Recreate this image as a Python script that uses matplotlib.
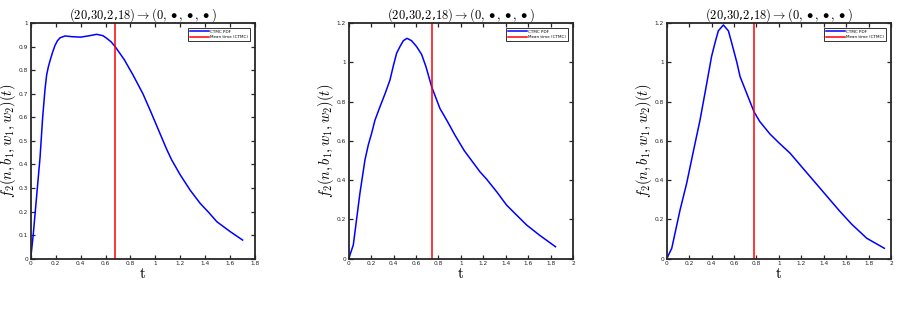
import numpy as np
import matplotlib
matplotlib.use("Agg")
import matplotlib.pyplot as plt

plt.rcParams['mathtext.fontset'] = 'cm'
plt.rcParams['font.family'] = ['DejaVu Sans']

# valeurs (t, densité)
t1 = [0, 0.02, 0.05, 0.075, 0.096, 0.115, 0.128, 0.142, 0.155, 0.175, 0.195, 0.215, 0.235,
      0.275, 0.33, 0.4, 0.46, 0.53, 0.58, 0.61, 0.645, 0.677, 0.75, 0.82, 0.9, 0.958, 1.03,
      1.09, 1.13, 1.198, 1.28, 1.359, 1.43, 1.493, 1.6, 1.7]
f1 = [0, 0.1, 0.28, 0.43, 0.6, 0.72, 0.78, 0.815, 0.84, 0.875, 0.905, 0.925, 0.937,
      0.945, 0.942, 0.94, 0.945, 0.952, 0.946, 0.935, 0.92, 0.90, 0.845, 0.78, 0.70, 0.63, 0.54,
      0.465, 0.42, 0.357, 0.29, 0.235, 0.195, 0.157, 0.115, 0.079]
t2 = [0, 0.041, 0.1, 0.145, 0.175, 0.205, 0.234, 0.279, 0.324, 0.368, 0.397, 0.427, 0.457,
      0.487, 0.52, 0.56, 0.605, 0.65, 0.69, 0.739, 0.813, 0.873, 0.946, 1.03, 1.169, 1.229,
      1.32, 1.407, 1.5, 1.585, 1.7, 1.843]
f2 = [0, 0.07, 0.333, 0.503, 0.58, 0.64, 0.705, 0.774, 0.84, 0.91, 0.98, 1.046, 1.08,
      1.11, 1.122, 1.11, 1.08, 1.04, 0.975, 0.876, 0.765, 0.706, 0.63, 0.55, 0.443, 0.405,
      0.34, 0.273, 0.22, 0.172, 0.12, 0.061]
t3 = [0, 0.045, 0.119, 0.178, 0.237, 0.297, 0.357, 0.40, 0.431, 0.46, 0.505, 0.55, 0.58,
      0.625, 0.654, 0.713, 0.778, 0.83, 0.92, 1.0, 1.10, 1.2, 1.35, 1.545, 1.65, 1.783, 1.94]
f3 = [0, 0.053, 0.248, 0.384, 0.545, 0.706, 0.893, 1.03, 1.10, 1.16, 1.19, 1.16, 1.097,
      1.0, 0.927, 0.842, 0.748, 0.698, 0.635, 0.59, 0.537, 0.47, 0.37, 0.24, 0.175, 0.104, 0.053]

mean_times = [0.677, 0.739, 0.778]
x_max = [1.8, 2, 2]
y_max = [1.0, 1.2, 1.2]
y_step = [0.1, 0.2, 0.2]

courbes = [(t1, f1), (t2, f2), (t3, f3)]
lefts = [30.7, 348.7, 666.7]

fig = plt.figure(figsize=(8.99, 3.14), dpi=100)

def fmt(v):
    s = ('%.1f' % v).rstrip('0').rstrip('.')
    return s

for i, (t, f) in enumerate(courbes):
    ax = fig.add_axes([lefts[i] / 899, (314 - 258.7) / 314, 224.4 / 899, 235.7 / 314])
    ax.plot(t, f, color=(0, 0, 1), lw=1.1, label='CTMC PDF')
    ax.axvline(mean_times[i], color=(1, 0, 0), lw=1.1, label='Mean time (CTMC)')
    ax.set_xlim(0, x_max[i])
    ax.set_ylim(0, y_max[i])
    xt = np.round(np.arange(0, x_max[i] + 0.001, 0.2), 1)
    yt = np.round(np.arange(0, y_max[i] + 0.001, y_step[i]), 1)
    ax.set_xticks(xt)
    ax.set_xticklabels([fmt(v) for v in xt])
    ax.set_yticks(yt)
    ax.set_yticklabels([fmt(v) for v in yt])
    ax.tick_params(direction='in', top=True, right=True, length=3, width=0.9,
                   labelsize=4.2, colors='#262626', pad=2)
    for sp in ax.spines.values():
        sp.set_color('#262626')
        sp.set_linewidth(1.3)
    ax.set_title(r'$(20$,$30$,$2$,$18) \rightarrow (0, \bullet, \bullet, \bullet)$',
                 fontsize=9, pad=3)
    ax.set_xlabel(r'$\mathrm{t}$', fontsize=11, labelpad=0)
    ax.set_ylabel(r'$f_2(n,b_1,w_1,w_2)(t)$', fontsize=10.4)
    ax.yaxis.set_label_coords(-0.055, 0.5)
    leg = ax.legend(loc='upper right', fontsize=3.0, frameon=True, fancybox=False,
                    borderpad=0.4, handlelength=4.5, handletextpad=0.4,
                    labelspacing=0.4, borderaxespad=1.2)
    leg.get_frame().set_edgecolor('black')
    leg.get_frame().set_linewidth(0.7)

fig.savefig('out.png', dpi=100)
